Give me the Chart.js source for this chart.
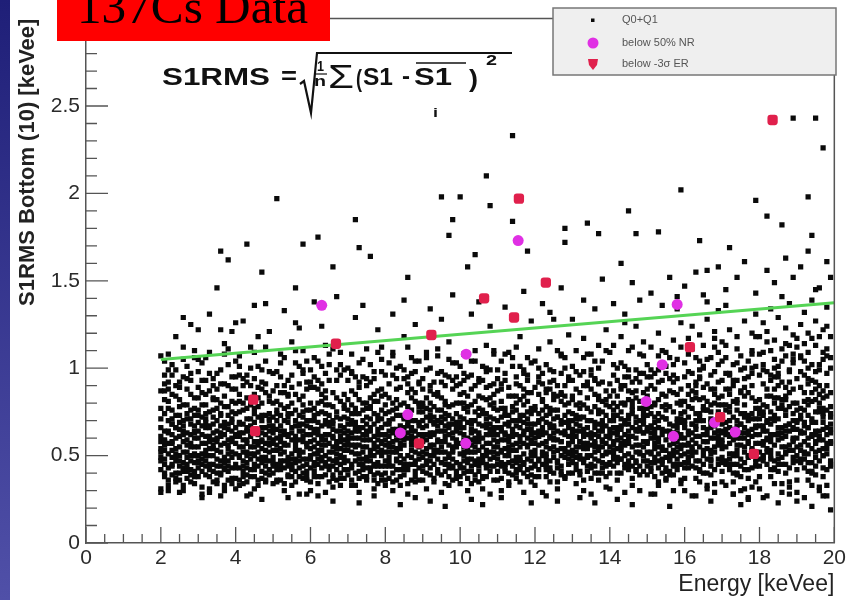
<!DOCTYPE html>
<html><head><meta charset="utf-8">
<script src="https://cdn.jsdelivr.net/npm/chart.js@4.4.1/dist/chart.umd.min.js"></script>
<style>html,body{margin:0;padding:0;background:#fff;overflow:hidden}canvas{display:block}</style>
</head><body>
<canvas id="c" width="849" height="600"></canvas>
<script>
// ---- DATA ----
// Q0+Q1 events, flattened pairs: energy (units of 0.1 keVee), S1RMS (units of 0.01 keVee)
const q01Points = [
20,52,21,38,23,71,25,44,27,63,29,55,22,81,24,35,26,58,28,47,20,66,21,91,22,43,24,60,26,33,28,76,29,41,27,52,25,69,23,49,
20,31,22,57,24,84,26,46,28,62,21,74,23,39,25,55,27,88,29,67,20,77,21,48,23,62,25,36,27,45,29,73,22,99,24,54,26,79,28,42,
20,58,21,64,22,30,23,85,24,47,25,61,26,95,27,37,28,57,29,50,20,42,22,70,24,40,26,64,28,93,21,56,23,53,25,78,27,59,29,34,
20,87,21,104,22,51,24,73,26,52,28,68,23,96,25,29,27,71,29,83,20,49,22,63,24,66,26,41,28,50,21,45,23,58,25,92,27,101,29,60,
22,108,26,112,29,106,
30,46,31,62,32,39,33,75,34,54,35,48,36,67,37,33,38,59,39,71,30,83,31,51,32,57,33,42,34,90,35,64,36,44,37,78,38,36,39,52,
30,69,31,28,32,74,33,61,34,45,35,97,36,56,37,49,38,65,39,81,30,38,31,72,32,53,33,87,34,63,35,40,36,80,37,57,38,47,39,43,
30,55,31,45,32,93,33,50,34,35,35,70,36,61,37,66,38,102,39,58,30,60,31,86,32,47,33,31,34,76,35,53,36,39,37,91,38,54,39,64,
30,105,31,41,32,66,33,58,34,68,35,82,36,47,37,43,38,73,39,37,30,50,31,67,32,79,33,45,34,59,35,34,36,99,37,62,38,41,39,88,
33,109,37,114,31,26,36,27,39,121,
40,57,41,43,42,68,43,35,44,79,45,51,46,62,47,46,48,73,49,39,40,88,41,55,42,41,43,64,44,48,45,94,46,36,47,70,48,53,49,60,
40,45,41,75,42,52,43,83,44,61,45,38,46,56,47,99,48,44,49,67,40,66,41,33,42,90,43,50,44,42,45,69,46,78,47,54,48,62,49,47,
40,37,41,61,42,47,43,57,44,71,45,58,46,44,47,41,48,86,49,74,40,74,41,96,42,59,43,43,44,55,45,31,46,65,47,80,48,49,49,56,
40,51,41,68,42,76,43,92,44,38,45,63,46,101,47,59,48,35,49,84,40,80,41,49,42,34,43,71,44,64,45,45,46,52,47,66,48,57,49,42,
41,107,44,112,48,104,43,27,47,25,46,118,
50,49,51,65,52,42,53,77,54,56,55,38,56,70,57,53,58,61,59,45,50,72,51,36,52,58,53,47,54,85,55,63,56,41,57,91,58,52,59,67,
50,59,51,81,52,67,53,34,54,44,55,74,56,57,57,43,58,79,59,55,50,40,51,53,52,95,53,62,54,69,55,48,56,85,57,64,58,37,59,76,
50,87,51,45,52,51,53,70,54,39,55,59,56,46,57,73,58,97,59,41,50,63,51,74,52,36,53,56,54,78,55,89,56,61,57,50,58,44,59,62,
50,53,51,60,52,79,53,43,54,62,55,51,56,103,57,38,58,68,59,92,50,34,51,98,52,64,53,86,54,49,55,42,56,54,57,82,58,58,59,48,
52,108,55,115,58,110,54,26,59,28,57,123,
60,54,61,41,62,69,63,47,64,62,65,35,66,78,67,58,68,45,69,72,60,66,61,89,62,53,63,38,64,74,65,57,66,44,67,83,68,61,69,49,
60,43,61,63,62,80,63,56,64,39,65,93,66,60,67,48,68,71,69,37,60,76,61,51,62,45,63,67,64,87,65,48,66,32,67,64,68,54,69,85,
60,58,61,73,62,38,63,91,64,50,65,67,66,70,67,42,68,96,69,59,60,35,61,46,62,62,63,53,64,44,65,79,66,55,67,99,68,40,69,63,
60,99,61,59,62,88,63,75,64,56,65,42,66,65,67,51,68,81,69,46,60,48,61,70,62,57,63,43,64,68,65,102,66,47,67,36,68,64,69,53,
61,106,64,113,68,109,66,24,62,27,
70,47,71,63,72,40,73,74,74,55,75,68,76,43,77,81,78,59,79,36,70,71,71,52,72,85,73,45,74,62,75,38,76,66,77,50,78,73,79,57,
70,58,71,36,72,64,73,92,74,42,75,55,76,78,77,61,78,46,79,88,70,39,71,79,72,51,73,60,74,70,75,90,76,53,77,44,78,65,79,71,
70,82,71,45,72,69,73,37,74,95,75,47,76,59,77,74,78,34,79,50,70,64,71,98,72,56,73,66,74,48,75,72,76,41,77,57,78,87,79,62,
70,53,71,60,72,33,73,82,74,76,75,59,76,102,77,39,78,55,79,44,70,93,71,70,72,77,73,51,74,38,75,64,76,47,77,68,78,52,79,98,
71,108,75,111,79,105,73,23,77,27,
80,56,81,44,82,71,83,59,84,38,85,66,86,50,87,83,88,47,89,62,80,40,81,75,82,52,83,88,84,63,85,45,86,72,87,36,88,57,89,80,
80,68,81,57,82,35,83,48,84,79,85,94,86,42,87,61,88,70,89,51,80,85,81,49,82,63,83,73,84,54,85,39,86,60,87,76,88,41,89,67,
80,47,81,91,82,58,83,42,84,67,85,56,86,86,87,45,88,98,89,36,80,62,81,37,82,80,83,65,84,46,85,71,86,34,87,53,88,60,89,92,
80,74,81,64,82,44,83,100,84,57,85,48,86,63,87,97,88,52,89,43,80,33,81,55,82,96,83,52,84,89,85,62,86,78,87,58,88,81,89,58,
82,107,86,112,89,104,84,22,88,26,85,118,
90,52,91,67,92,43,93,78,94,59,95,46,96,71,97,38,98,63,99,55,90,75,91,40,92,61,93,50,94,86,95,64,96,45,97,73,98,52,99,69,
90,44,91,83,92,56,93,37,94,67,95,92,96,58,97,49,98,79,99,41,90,61,91,54,92,90,93,68,94,42,95,52,96,81,97,62,98,36,99,74,
90,88,91,47,92,70,93,56,94,76,95,39,96,61,97,95,98,48,99,57,90,36,91,72,92,50,93,85,94,53,95,69,96,34,97,56,98,88,99,64,
90,66,91,99,92,63,93,45,94,97,95,58,96,74,97,43,98,60,99,90,90,49,91,59,92,80,93,62,94,40,95,83,96,52,97,68,98,71,99,46,
91,106,94,111,97,115,99,103,92,24,96,21,
100,57,101,43,102,69,103,52,104,81,105,61,106,38,107,74,108,48,109,65,100,72,101,59,102,46,103,88,104,55,105,41,106,67,107,53,108,79,109,36,
100,45,101,77,102,56,103,63,104,39,105,94,106,50,107,62,108,57,109,85,100,91,101,50,102,37,103,70,104,64,105,48,106,83,107,45,108,68,109,55,
100,38,101,66,102,84,103,44,104,52,105,73,106,60,107,98,108,41,109,71,100,63,101,86,102,53,103,59,104,75,105,35,106,46,107,66,108,90,109,49,
100,51,101,40,102,75,103,96,104,47,105,58,106,101,107,38,108,62,109,77,100,80,101,62,102,48,103,34,104,90,105,68,106,55,107,82,108,44,109,59,
101,108,104,104,107,113,109,110,103,25,106,22,
110,48,111,64,112,41,113,73,114,56,115,67,116,44,117,79,118,60,119,52,110,70,111,37,112,59,113,46,114,84,115,53,116,66,117,40,118,75,119,62,
110,55,111,81,112,68,113,35,114,63,115,42,116,90,117,57,118,48,119,86,110,87,111,53,112,45,113,61,114,39,115,76,116,55,117,69,118,93,119,43,
110,41,111,72,112,97,113,58,114,70,115,49,116,35,117,84,118,56,119,68,110,62,111,46,112,54,113,89,114,47,115,95,116,61,117,51,118,38,119,74,
110,94,111,59,112,77,113,50,114,101,115,62,116,73,117,45,118,65,119,57,110,36,111,88,112,62,113,67,114,53,115,40,116,82,117,99,118,71,119,50,
112,108,115,112,118,106,116,118,111,26,119,23,
120,53,121,69,122,45,123,78,124,60,125,49,126,72,127,39,128,64,129,56,120,76,121,42,122,62,123,51,124,88,125,66,126,47,127,81,128,54,129,70,
120,44,121,85,122,57,123,38,124,68,125,93,126,59,127,50,128,79,129,45,120,63,121,56,122,91,123,69,124,43,125,55,126,84,127,63,128,37,129,75,
120,89,121,48,122,71,123,58,124,77,125,40,126,64,127,97,128,49,129,61,120,38,121,74,122,52,123,86,124,54,125,71,126,35,127,58,128,90,129,66,
120,68,121,100,122,64,123,46,124,99,125,59,126,76,127,44,128,62,129,95,120,50,121,61,122,82,123,63,124,41,125,85,126,53,127,70,128,106,129,48,
121,111,124,115,127,108,129,119,123,27,126,24,125,128,
130,58,131,45,132,72,133,54,134,83,135,63,136,40,137,76,138,50,139,67,130,74,131,61,132,48,133,90,134,57,135,43,136,69,137,55,138,81,139,38,
130,47,131,79,132,58,133,65,134,41,135,96,136,52,137,64,138,59,139,87,130,93,131,52,132,39,133,72,134,66,135,50,136,85,137,47,138,70,139,57,
130,40,131,68,132,86,133,46,134,54,135,75,136,62,137,100,138,43,139,73,130,65,131,88,132,55,133,61,134,77,135,37,136,48,137,68,138,92,139,51,
130,53,131,42,132,77,133,98,134,49,135,60,136,104,137,40,138,64,139,79,130,82,131,64,132,50,133,36,134,92,135,70,136,57,137,84,138,46,139,61,
131,110,133,117,135,108,137,113,139,122,132,26,136,23,
140,55,141,70,142,46,143,80,144,62,145,51,146,74,147,41,148,66,149,58,140,78,141,44,142,64,143,53,144,90,145,68,146,49,147,83,148,56,149,72,
140,46,141,87,142,59,143,40,144,70,145,95,146,61,147,52,148,81,149,47,140,65,141,58,142,93,143,71,144,45,145,57,146,86,147,65,148,39,149,77,
140,91,141,50,142,73,143,60,144,79,145,42,146,66,147,99,148,51,149,63,140,40,141,76,142,54,143,88,144,56,145,73,146,37,147,60,148,92,149,68,
140,70,141,102,142,66,143,48,144,101,145,61,146,78,147,46,148,64,149,97,140,52,141,63,142,84,143,65,144,43,145,87,146,55,147,72,148,108,149,50,
141,113,143,118,145,110,147,124,149,115,142,25,146,22,144,131,
150,57,151,43,152,69,153,51,154,85,155,64,156,39,157,75,158,48,159,62,150,73,151,60,152,46,153,92,154,55,155,41,156,68,157,53,158,80,159,36,
150,44,151,78,152,57,153,66,154,40,155,97,156,51,157,63,158,58,159,88,150,95,151,51,152,38,153,74,154,65,155,49,156,87,157,45,158,71,159,56,
150,39,151,67,152,88,153,47,154,53,155,76,156,61,157,102,158,42,159,74,150,64,151,90,152,54,153,60,154,78,155,36,156,47,157,67,158,94,159,50,
150,52,151,41,152,79,153,99,154,48,155,59,156,106,157,39,158,63,159,81,150,84,151,63,152,49,153,35,154,93,155,71,156,56,157,86,158,45,159,60,
151,112,153,120,155,109,157,116,159,126,152,28,156,21,158,134,
160,56,161,72,162,44,163,83,164,61,165,50,166,76,167,39,168,67,169,58,160,81,161,46,162,63,163,52,164,94,165,70,166,48,167,88,168,55,169,73,
160,43,161,90,162,59,163,37,164,72,165,100,166,62,167,51,168,85,169,45,160,66,161,57,162,97,163,74,164,42,165,58,166,91,167,66,168,34,169,79,
160,95,161,49,162,77,163,61,164,82,165,40,166,65,167,106,168,52,169,64,160,37,161,78,162,53,163,92,164,55,165,76,166,33,167,60,168,98,169,69,
160,70,161,108,162,68,163,47,164,104,165,62,166,81,167,44,168,63,169,102,160,51,161,64,162,87,163,67,164,41,165,89,166,54,167,75,168,112,169,48,
161,117,162,124,164,119,166,128,168,121,169,133,163,27,167,24,165,142,
170,54,171,69,172,42,173,81,174,60,175,48,176,74,177,37,178,65,179,57,170,79,171,45,172,62,173,50,174,93,175,68,176,46,177,86,178,53,179,71,
170,41,171,88,172,57,173,35,174,70,175,99,176,60,177,49,178,83,179,44,170,64,171,55,172,96,173,72,174,40,175,56,176,89,177,64,178,32,179,77,
170,93,171,47,172,75,173,59,174,80,175,38,176,63,177,104,178,50,179,62,170,35,171,76,172,51,173,90,174,53,175,74,176,31,177,58,178,97,179,67,
170,68,171,106,172,66,173,45,174,103,175,60,176,79,177,42,178,61,179,101,170,49,171,62,172,85,173,65,174,39,175,87,176,52,177,73,178,110,179,46,
170,115,172,122,174,118,176,127,178,120,179,131,171,136,173,28,177,25,175,22,
180,57,181,73,182,45,183,84,184,62,185,51,186,77,187,40,188,68,189,59,180,82,181,47,182,64,183,53,184,95,185,71,186,49,187,89,188,56,189,74,
180,44,181,91,182,60,183,38,184,73,185,101,186,63,187,52,188,86,189,46,180,67,181,58,182,98,183,75,184,43,185,59,186,92,187,67,188,35,189,80,
180,96,181,50,182,78,183,62,184,83,185,41,186,66,187,107,188,53,189,65,180,38,181,79,182,54,183,93,184,56,185,77,186,34,187,61,188,99,189,70,
180,71,181,109,182,69,183,48,184,105,185,63,186,82,187,45,188,64,189,103,180,52,181,65,182,88,183,68,184,42,185,90,186,55,187,76,188,113,189,49,
180,118,181,126,182,121,183,134,184,116,185,129,186,141,187,123,188,137,189,119,181,26,185,23,188,28,
190,55,191,71,192,43,193,82,194,61,195,49,196,75,197,38,198,66,199,58,190,80,191,46,192,63,193,51,194,93,195,69,196,47,197,87,198,54,199,72,
190,42,191,89,192,58,193,36,194,71,195,98,196,61,197,50,198,84,199,44,190,65,191,56,192,96,193,73,194,41,195,57,196,90,197,65,198,33,199,78,
190,94,191,48,192,76,193,60,194,81,195,39,196,64,197,105,198,51,199,63,190,36,191,77,192,52,193,91,194,54,195,75,196,32,197,59,198,97,199,68,
190,69,191,107,192,67,193,46,194,102,195,62,196,80,197,43,198,62,199,100,190,50,191,63,192,86,193,66,194,40,195,88,196,53,197,74,198,111,199,47,
190,117,191,125,192,132,193,120,194,139,195,127,196,146,197,122,198,135,199,152,192,114,196,118,198,124,190,24,194,21,199,19,197,27,
// sparse band above the core
24,118,28,125,33,131,36,122,42,127,45,136,49,121,53,133,56,126,61,138,63,124,67,141,72,129,74,136,78,122,82,131,85,139,88,125,
92,134,95,128,98,142,103,131,105,138,108,124,112,135,114,129,117,144,119,127,122,137,124,132,127,146,130,128,133,139,136,134,
138,151,141,137,144,126,146,149,148,139,151,143,154,136,156,152,158,141,160,147,163,155,166,138,169,158,171,145,174,152,176,161,
179,143,182,156,184,149,187,163,189,152,191,158,193,167,195,145,198,161,
38,162,47,155,58,171,66,158,76,164,86,152,97,176,102,158,118,167,128,172,134,183,143,160,153,178,164,173,172,169,186,182,194,176,
// isolated outliers
36,167,35,146,43,171,51,197,62,175,72,185,73,169,95,198,100,198,98,185,104,165,107,210,114,233,114,184,108,193,128,180,
137,177,145,190,147,177,159,202,166,156,179,196,182,187,189,243,193,198,197,226,195,243,26,129,30,122,48,137,56,146,40,126
];
// more Q0+Q1 events in the dense core, same units
const q01Core = [
20,47,21,59,22,36,23,68,24,51,25,82,26,43,27,74,28,39,29,63,20,71,21,53,22,88,23,44,24,66,25,40,26,70,27,49,28,85,29,46,20,61,21,82,22,64,23,57,24,90,25,50,26,62,27,42,28,55,29,77,21,40,23,76,25,65,27,56,29,51,
30,64,31,48,32,85,33,54,34,41,35,77,36,52,37,69,38,44,39,60,30,43,31,57,32,71,33,38,34,82,35,60,36,74,37,46,38,90,39,49,30,76,31,93,32,44,33,67,34,50,35,44,36,63,37,84,38,56,39,75,30,89,32,61,34,72,36,40,38,68,
40,62,41,50,42,80,43,46,44,67,45,42,46,72,47,58,48,40,49,81,40,43,41,69,42,55,43,77,44,51,45,85,46,48,47,63,48,91,49,52,40,95,41,81,42,63,43,39,44,90,45,55,46,83,47,37,48,66,49,70,41,36,43,59,45,74,47,88,49,64,
50,67,51,42,52,73,53,52,54,61,55,80,56,48,57,68,58,40,59,57,50,44,51,70,52,54,53,90,54,46,55,66,56,76,57,59,58,84,59,36,50,80,51,56,52,86,53,64,54,38,55,45,56,67,57,47,58,72,59,88,50,57,52,47,54,74,56,35,58,64,
60,50,61,77,62,48,63,61,64,83,65,52,66,68,67,56,68,37,69,66,60,70,61,55,62,74,63,85,64,46,65,62,66,39,67,72,68,58,69,42,60,89,61,44,62,93,63,49,64,59,65,73,66,86,67,46,68,67,69,79,60,62,62,65,64,79,66,52,68,50,
70,61,71,43,72,74,73,56,74,66,75,49,76,83,77,45,78,70,79,53,70,42,71,68,72,47,73,89,74,59,75,80,76,64,77,54,78,40,79,76,70,76,71,87,72,60,73,41,74,52,75,43,76,71,77,94,78,62,79,66,71,56,73,64,75,77,77,36,79,84,
80,52,81,68,82,40,83,77,84,60,85,43,86,67,87,49,88,86,89,55,80,79,81,46,82,65,83,36,84,73,85,59,86,45,87,70,88,64,89,75,80,44,81,83,82,55,83,62,84,42,85,80,86,91,87,64,88,38,89,48,81,61,83,54,85,72,87,88,89,69,
90,58,91,45,92,76,93,63,94,48,95,72,96,41,97,66,98,55,99,80,90,70,91,62,92,39,93,53,94,84,95,46,96,67,97,78,98,43,99,59,90,41,91,77,92,87,93,72,94,64,95,55,96,90,97,51,98,68,99,38,90,80,92,55,94,70,96,48,98,93,
100,66,101,52,102,78,103,41,104,60,105,84,106,48,107,57,108,72,109,44,100,43,101,71,102,60,103,79,104,45,105,53,106,76,107,89,108,52,109,66,100,85,101,47,102,41,103,65,104,70,105,63,106,37,107,50,108,83,109,80,101,93,103,56,105,44,107,68,109,91,
110,58,111,44,112,74,113,53,114,65,115,80,116,49,117,62,118,42,119,77,110,76,111,66,112,50,113,84,114,44,115,57,116,70,117,46,118,86,119,59,110,45,111,91,112,63,113,40,114,78,115,70,116,42,117,73,118,55,119,39,111,52,113,69,115,46,117,88,119,65,
120,60,121,47,122,76,123,55,124,66,125,82,126,43,127,68,128,52,129,80,120,78,121,63,122,50,123,88,124,47,125,60,126,72,127,41,128,84,129,57,120,45,121,92,122,66,123,42,124,74,125,52,126,90,127,58,128,69,129,40,121,38,123,73,125,63,127,85,129,51,
130,62,131,49,132,80,133,57,134,70,135,45,136,78,137,53,138,66,139,44,130,84,131,71,132,41,133,63,134,50,135,88,136,58,137,74,138,40,139,82,130,46,131,55,132,67,133,79,134,90,135,56,136,44,137,61,138,75,139,52,130,70,132,58,134,62,136,94,138,55,
140,60,141,48,142,78,143,55,144,68,145,82,146,44,147,64,148,52,149,86,140,45,141,73,142,62,143,90,144,50,145,58,146,76,147,42,148,70,149,55,140,84,141,56,142,40,143,67,144,80,145,47,146,92,147,56,148,77,149,41,141,66,143,48,145,71,147,87,149,63,
150,66,151,52,152,80,153,43,154,62,155,71,156,48,157,57,158,85,159,45,150,47,151,74,152,60,153,82,154,45,155,53,156,78,157,92,158,55,159,69,150,88,151,46,152,65,153,58,154,72,155,84,156,41,157,50,158,66,159,79,151,95,153,70,155,43,157,62,159,54,
160,60,161,48,162,82,163,57,164,70,165,45,166,76,167,53,168,88,169,64,160,75,161,62,162,50,163,90,164,47,165,83,166,58,167,71,168,42,169,56,160,46,161,85,162,68,163,43,164,95,165,66,166,40,167,79,168,60,169,92,161,56,163,70,165,101,167,48,169,83,
170,59,171,46,172,78,173,62,174,50,175,86,176,55,177,70,178,43,179,81,170,84,171,65,172,48,173,93,174,67,175,44,176,72,177,57,178,90,179,52,170,46,171,97,172,61,173,40,174,82,175,63,176,94,177,50,178,74,179,66,170,72,172,88,174,56,176,42,178,100,
180,62,181,49,182,84,183,58,184,70,185,45,186,79,187,55,188,92,189,66,180,77,181,64,182,52,183,96,184,47,185,83,186,60,187,73,188,43,189,88,180,48,181,99,182,70,183,42,184,88,185,66,186,104,187,51,188,78,189,58,181,75,183,61,185,95,187,84,189,108,
190,60,191,47,192,81,193,56,194,69,195,44,196,77,197,54,198,90,199,65,190,76,191,63,192,51,193,94,194,46,195,82,196,59,197,72,198,42,199,86,190,47,191,98,192,69,193,41,194,86,195,64,196,102,197,50,198,76,199,57,191,73,193,109,195,92,197,83,199,106
];
// Q0+Q1 events filling the edges of the band (low tail and 0.9-1.15), same units
const q01Edge = [
20,29,22,33,24,37,26,30,28,35,21,96,23,102,25,89,27,94,29,110,20,107,22,92,24,99,26,105,28,97,21,58,23,45,25,73,27,41,29,64,20,54,22,77,24,49,26,67,28,71,21,87,23,68,25,47,27,79,29,38,
31,32,33,29,35,36,37,30,39,34,30,98,32,106,34,94,36,91,38,111,31,103,33,97,35,88,37,108,39,95,30,47,32,69,34,56,36,73,38,51,31,79,33,66,35,58,37,42,39,69,30,73,32,50,34,83,36,61,38,78,
40,31,42,38,44,28,46,33,48,36,41,101,43,96,45,109,47,92,49,98,40,104,42,94,44,100,46,89,48,112,41,63,43,52,45,77,47,49,49,71,40,61,42,44,44,81,46,58,48,47,41,85,43,66,45,50,47,73,49,57,
51,35,53,30,55,33,57,28,59,38,50,97,52,103,54,93,56,110,58,99,51,90,53,106,55,96,57,101,59,104,50,46,52,61,54,72,56,53,58,48,51,76,53,57,55,43,57,67,59,70,50,65,52,45,54,84,56,59,58,75,
60,30,62,34,64,29,66,37,68,33,61,95,63,101,65,108,67,93,69,99,60,92,62,104,64,97,66,111,68,102,61,65,63,59,65,44,67,75,69,56,60,80,62,51,64,70,66,61,68,49,61,38,63,81,65,69,67,54,69,77,
71,33,73,29,75,36,77,31,79,39,70,100,72,95,74,105,76,92,78,109,71,97,73,103,75,94,77,98,79,112,70,56,72,66,74,80,76,50,78,44,71,74,73,48,75,62,77,85,79,58,70,68,72,55,74,45,76,77,78,81,
80,36,82,30,84,33,86,28,88,35,81,103,83,94,85,99,87,106,89,91,80,96,82,109,84,101,86,95,88,104,81,70,83,47,85,61,87,56,89,78,80,59,82,76,84,50,86,69,88,45,81,52,83,82,85,42,87,66,89,62,
91,31,93,35,95,29,97,33,99,37,90,94,92,100,94,107,96,96,98,103,91,109,93,92,95,98,97,105,99,95,90,62,92,47,94,58,96,79,98,53,91,51,93,69,95,76,97,45,99,66,90,78,92,73,94,52,96,64,98,44,
100,34,102,30,104,36,106,31,108,28,101,97,103,104,105,92,107,100,109,108,100,101,102,95,104,110,106,93,108,99,101,55,103,68,105,46,107,71,109,62,100,69,102,52,104,58,106,74,108,65,101,80,103,48,105,77,107,43,109,52,
111,30,113,33,115,37,117,29,119,35,110,99,112,93,114,106,116,101,118,96,111,104,113,109,115,91,117,97,119,103,110,51,112,73,114,61,116,47,118,68,111,77,113,55,115,84,117,64,119,47,110,66,112,43,114,75,116,58,118,81,
120,33,122,29,124,35,126,31,128,38,121,95,123,102,125,98,127,107,129,93,120,104,122,97,124,92,126,110,128,100,121,64,123,49,125,76,127,54,129,68,120,57,122,81,124,61,126,46,128,73,121,70,123,44,125,67,127,86,129,52,
131,34,133,30,135,28,137,36,139,32,130,101,132,96,134,108,136,93,138,104,131,98,133,106,135,99,137,91,139,110,130,50,132,64,134,77,136,55,138,68,131,73,133,48,135,61,137,82,139,45,130,61,132,71,134,44,136,66,138,58,
140,31,142,36,144,29,146,33,148,30,141,96,143,103,145,99,147,94,149,107,140,109,142,100,144,95,146,112,148,97,141,53,143,75,145,64,147,47,149,70,140,62,142,49,144,58,146,81,148,44,141,80,143,57,145,45,147,69,149,74,
151,28,153,33,155,37,157,30,159,34,150,102,152,97,154,110,156,94,158,105,151,99,153,107,155,101,157,96,159,112,150,58,152,72,154,47,156,64,158,52,151,66,153,55,155,79,157,44,159,71,150,77,152,62,154,85,156,50,158,69,
160,30,162,27,164,35,166,31,168,29,161,98,163,106,165,113,167,96,169,109,160,103,162,111,164,99,166,105,168,117,161,52,163,65,165,78,167,47,169,61,160,68,162,55,164,74,166,58,168,80,161,43,163,86,165,53,167,69,169,75,
171,33,173,28,175,30,177,26,179,35,170,104,172,97,174,111,176,100,178,108,171,113,173,102,175,107,177,95,179,118,170,57,172,70,174,45,176,66,178,54,171,79,173,51,175,68,177,62,179,48,170,63,172,45,174,76,176,84,178,71,
180,31,182,27,184,34,186,29,188,32,181,102,183,110,185,97,187,114,189,105,180,108,182,115,184,100,186,111,188,98,181,56,183,71,185,48,187,64,189,53,180,74,182,59,184,80,186,45,188,68,181,67,183,50,185,62,187,82,189,60,
190,29,192,26,194,33,196,30,198,27,191,106,193,100,195,113,197,109,199,118,190,112,192,104,194,117,196,99,198,107,191,53,193,66,195,58,197,77,199,45,190,70,192,48,194,62,196,85,198,57,191,64,193,79,195,52,197,69,199,74
];
// below 50% NR (keVee)
const nrEnergy = [6.3, 10.16, 11.55, 15.4, 15.8, 14.97, 8.6, 8.4, 10.15, 15.7, 17.35, 16.8];
const nrRms    = [1.36, 1.08, 1.73, 1.02, 1.365, 0.81, 0.735, 0.63, 0.57, 0.61, 0.635, 0.69];
// below -3 sigma ER (keVee)
const erEnergy = [11.57, 12.29, 10.64, 11.44, 9.23, 16.14, 8.9, 6.68, 4.47, 4.52, 18.35, 16.95, 17.85];
const erRms    = [1.97, 1.49, 1.40, 1.29, 1.19, 1.12, 0.57, 1.14, 0.82, 0.64, 2.42, 0.72, 0.51];
// green cut line
const fitEnergy = [2, 20];
const fitRms    = [1.05, 1.375];
// axis / labels
const xRange = [0, 20];
const yRange = [0, 3];
const seriesLabels = ['Q0+Q1', 'below 50% NR', 'below -3\u03c3 ER'];
const xTitle = 'Energy [keVee]';
const yTitle = 'S1RMS Bottom (10) [keVee]';
const banner = '137Cs Data';

// ---- BUILD ----
const q01Data = [];
[q01Points, q01Core, q01Edge].forEach(arr => {
  for (let i = 0; i + 1 < arr.length; i += 2) q01Data.push({x: arr[i] / 10, y: arr[i + 1] / 100});
});
const nrData = nrEnergy.map((e, i) => ({x: e, y: nrRms[i]}));
const erData = erEnergy.map((e, i) => ({x: e, y: erRms[i]}));
const fitData = fitEnergy.map((e, i) => ({x: e, y: fitRms[i]}));

const SANS = "'Liberation Sans', Arial, Helvetica, sans-serif";
const SERIF = "'Liberation Serif', 'Times New Roman', serif";

function fitText(g, txt, x0, x1, base, font) {
  g.save();
  g.font = font;
  const w = g.measureText(txt).width;
  g.translate(x0, base);
  g.scale((x1 - x0) / w, 1);
  g.fillText(txt, 0, 0);
  g.restore();
}

const decor = {
  id: 'decor',
  beforeDraw(c) {
    const g = c.ctx;
    g.save();
    g.fillStyle = '#fff';
    g.fillRect(0, 0, c.width, c.height);
    const gr = g.createLinearGradient(0, 0, 0, c.height);
    gr.addColorStop(0, '#1f1f78');
    gr.addColorStop(1, '#5050a8');
    g.fillStyle = gr;
    g.fillRect(0, 0, 10, c.height);
    g.restore();
  },
  afterDraw(c) {
    const g = c.ctx, xs = c.scales.x, ys = c.scales.y, a = c.chartArea;
    g.save();
    // frame (top/right)
    g.strokeStyle = '#555';
    g.lineWidth = 1.5;
    g.beginPath();
    g.moveTo(a.left, a.top); g.lineTo(a.right, a.top); g.lineTo(a.right, a.bottom);
    g.stroke();
    // inner ticks
    g.lineWidth = 1.3;
    g.beginPath();
    for (let k = 0; k <= 40; k++) {
      const v = k * 0.5, px = xs.getPixelForValue(v);
      const len = (k % 4 === 0) ? 16 : 9;
      g.moveTo(px, a.bottom); g.lineTo(px, a.bottom - len);
    }
    for (let k = 0; k <= 30; k++) {
      const v = k * 0.1, py = ys.getPixelForValue(v);
      const len = (k % 5 === 0) ? 22 : 11;
      g.moveTo(a.left, py); g.lineTo(a.left + len, py);
    }
    g.stroke();

    // legend box
    const ds = c.data.datasets;
    g.fillStyle = '#efefef';
    g.fillRect(553, 8, 283, 67);
    g.strokeStyle = '#777';
    g.lineWidth = 1.5;
    g.strokeRect(553, 8, 283, 67);
    const rows = [[ds[3], 20], [ds[1], 43], [ds[0], 64]];
    g.font = '11px ' + SANS;
    g.textBaseline = 'middle';
    rows.forEach(([d, y], i) => {
      g.fillStyle = d.backgroundColor;
      if (i === 0) { g.fillRect(591, y - 1.5, 3.5, 3.5); }
      else if (i === 1) { g.beginPath(); g.arc(593, y, 5.5, 0, Math.PI * 2); g.fill(); }
      else {
        g.beginPath(); g.moveTo(588, y - 5); g.lineTo(598, y - 5); g.lineTo(597, y + 1); g.lineTo(593, y + 6); g.lineTo(589, y + 1); g.closePath(); g.fill();
      }
      g.fillStyle = '#555';
      g.fillText(d.label, 622, y);
    });

    // formula
    g.fillStyle = '#111';
    g.strokeStyle = '#111';
    g.textBaseline = 'alphabetic';
    fitText(g, 'S1RMS', 162, 270, 85, 'bold 24px ' + SANS);
    fitText(g, '=', 281, 297, 84, 'bold 24px ' + SANS);
    g.lineWidth = 2.2;
    g.beginPath();
    g.moveTo(300, 84); g.lineTo(304, 81); g.lineTo(311, 113); g.lineTo(317, 53); g.lineTo(512, 53);
    g.stroke();
    fitText(g, '1', 317, 324, 71, 'bold 14px ' + SANS);
    g.lineWidth = 1.2;
    g.beginPath(); g.moveTo(314, 74); g.lineTo(327, 74); g.stroke();
    fitText(g, 'n', 314, 326, 86, 'bold 15px ' + SANS);
    fitText(g, '\u03a3', 328, 354, 88, '34px ' + SANS);
    fitText(g, '(', 356, 362, 87, 'bold 24px ' + SANS);
    fitText(g, 'S1', 363, 393, 85, 'bold 24px ' + SANS);
    fitText(g, '-', 402, 410, 84, 'bold 24px ' + SANS);
    fitText(g, 'S1', 414, 452, 85, 'bold 24px ' + SANS);
    g.lineWidth = 1.6;
    g.beginPath(); g.moveTo(416, 63); g.lineTo(466, 63); g.stroke();
    fitText(g, ')', 469, 478, 87, 'bold 24px ' + SANS);
    fitText(g, '2', 486, 497, 65, 'bold 14px ' + SANS);
    fitText(g, 'i', 433, 438, 117, 'bold 13px ' + SANS);

    // red banner
    g.fillStyle = '#ff0000';
    g.fillRect(57, 0, 273, 41);
    g.fillStyle = '#000';
    fitText(g, banner, 77, 308, 23, '48px ' + SERIF);
    g.restore();
  }
};

new Chart(document.getElementById('c'), {
  type: 'scatter',
  data: {
    datasets: [
      {label: seriesLabels[2], data: erData, pointStyle: 'rectRounded', pointRadius: 6, backgroundColor: '#e0204c', borderWidth: 0},
      {label: seriesLabels[1], data: nrData, pointStyle: 'circle', pointRadius: 5.5, backgroundColor: '#e030e4', borderWidth: 0},
      {label: 'cut', data: fitData, showLine: true, borderColor: '#55d455', borderWidth: 3, pointRadius: 0, fill: false},
      {label: seriesLabels[0], data: q01Data, pointStyle: 'rect', pointRadius: 3.7, backgroundColor: '#0a0a0a', borderWidth: 0}
    ]
  },
  options: {
    responsive: false,
    animation: false,
    devicePixelRatio: 1,
    events: [],
    layout: {padding: {left: 0, top: 9, right: 11, bottom: 0}},
    plugins: {legend: {display: false}, tooltip: {enabled: false}},
    scales: {
      x: {
        type: 'linear', min: xRange[0], max: xRange[1],
        ticks: {stepSize: 2, autoSkip: false, maxRotation: 0, color: '#2a2a2a', padding: 3, font: {family: SANS, size: 21}},
        grid: {display: false, drawTicks: false},
        border: {display: true, color: '#555', width: 1.5},
        title: {display: true, text: xTitle, align: 'end', color: '#222', font: {family: SANS, size: 23}, padding: {top: 0, bottom: 2}},
        afterFit(s) { s.height = 57; }
      },
      y: {
        type: 'linear', min: yRange[0], max: yRange[1],
        ticks: {stepSize: 0.5, color: '#2a2a2a', padding: 6, font: {family: SANS, size: 21},
                callback: v => (v >= yRange[1] ? '' : String(Math.round(v * 10) / 10))},
        grid: {display: false, drawTicks: false},
        border: {display: true, color: '#555', width: 1.5},
        title: {display: true, text: yTitle, align: 'end', color: '#222', font: {family: SANS, size: 22, weight: 'bold'}, padding: {top: 15, bottom: 0}},
        afterFit(s) { s.width = 86; }
      }
    }
  },
  plugins: [decor]
});
</script>
</body></html>
